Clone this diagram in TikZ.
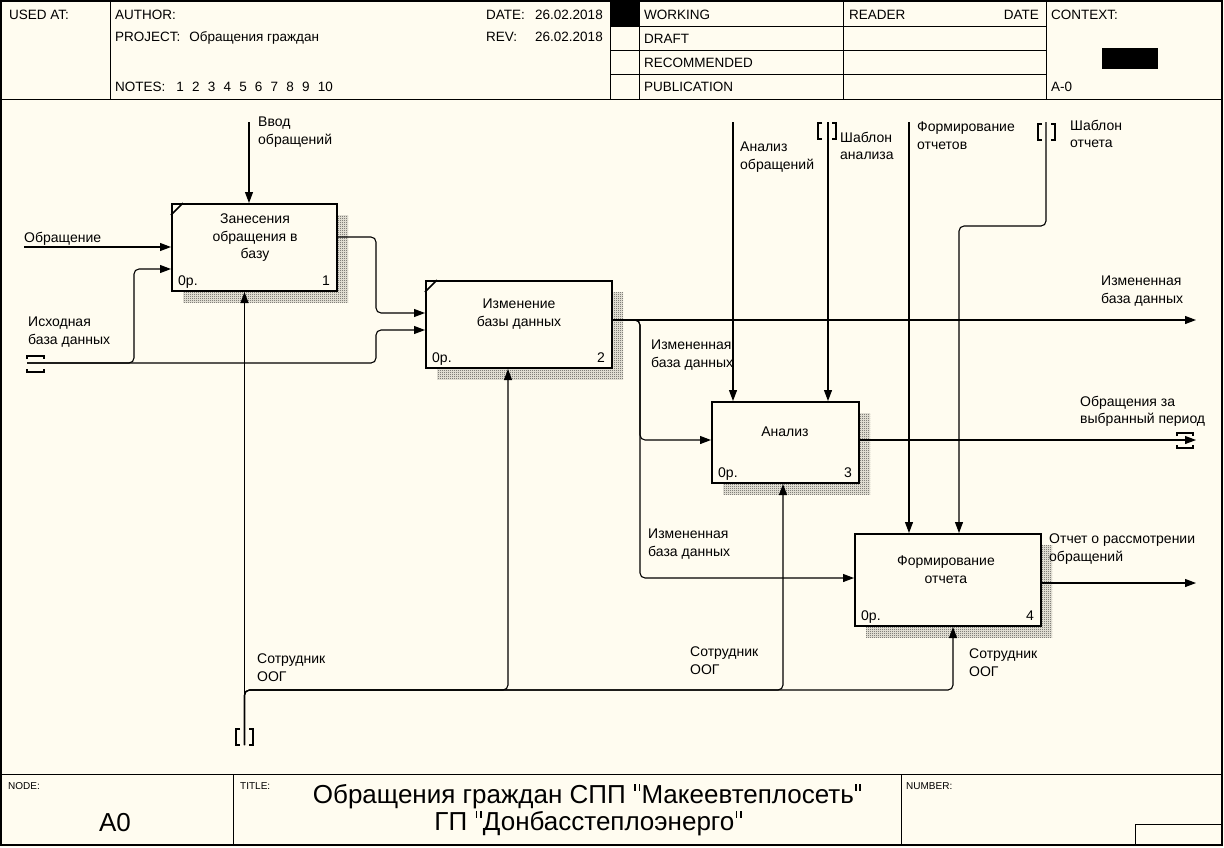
\documentclass[tikz,border=0pt]{standalone}
\usepackage{fontspec}
\setmainfont{Liberation Sans}
\usetikzlibrary{arrows.meta,patterns.meta}
\definecolor{bg}{RGB}{255,252,240}
\tikzdeclarepattern{
  name=finechk,
  type=uncolored,
  bounding box={(0pt,0pt) and (2pt,2pt)},
  tile size={(2pt,2pt)},
  code={
    \fill (0pt,0pt) rectangle (1pt,1pt);
    \fill (1pt,1pt) rectangle (2pt,2pt);
  }
}
\newcommand{\dq}{\hspace{1.3pt}\rule[12.3pt]{1.7pt}{6.3pt}\hspace{2.5pt}\rule[12.3pt]{1.7pt}{6.3pt}\hspace{1.3pt}}
\begin{document}
\begin{tikzpicture}[x=1pt,y=-1pt,
  frame/.style={line width=1pt, draw=black},
  hdr/.style={font=\fontsize{13.5}{16}\selectfont, anchor=base west, inner sep=0pt},
  small/.style={font=\fontsize{10}{12}\selectfont, anchor=base west, inner sep=0pt},
  lbl/.style={font=\fontsize{14}{17.5}\selectfont, align=left, anchor=north west, inner sep=0pt},
  boxtxt/.style={font=\fontsize{14}{17.5}\selectfont, align=center, anchor=north, inner sep=0pt},
  boxnum/.style={font=\fontsize{14}{17.5}\selectfont, inner sep=0pt},
  procbox/.style={draw, line width=2pt, fill=bg, inner sep=0pt},
  shadowfill/.style={pattern=finechk, pattern color=black},
  arr/.style={line width=1.1pt, -{Triangle[length=11pt,width=8pt]}},
  ln/.style={line width=1.1pt},
  tun/.style={line width=1.1pt},
  bigtxt/.style={font=\fontsize{26}{30}\selectfont, anchor=base, inner sep=0pt}
]
\useasboundingbox (0,0) rectangle (1224,847);
\fill[bg] (0,0) rectangle (1224,847);

% ---------- frame ----------
\draw[line width=1.5pt] (1,1) rectangle (1222,845);
\draw[frame] (1,99) -- (1222,99);
\draw[frame] (1,774) -- (1222,774);
\draw[frame] (110,1) -- (110,99);
\draw[frame] (610,1) -- (610,99);
\draw[frame] (639,1) -- (639,99);
\draw[frame] (843,1) -- (843,99);
\draw[frame] (1046,1) -- (1046,99);
\draw[frame] (610,26) -- (1046,26);
\draw[frame] (610,50) -- (1046,50);
\draw[frame] (610,74) -- (1046,74);
\fill[black] (611,2) rectangle (639,26);
\fill[black] (1102,48) rectangle (1158,69);
\draw[frame] (233,774) -- (233,845);
\draw[frame] (901,774) -- (901,845);
\draw[frame] (1135,824) -- (1135,845);
\draw[frame] (1135,824) -- (1222,824);

% ---------- header text ----------
\node[hdr] (hUsed) at (9,19) {USED AT:};
\node[hdr] (hAuth) at (115,19) {AUTHOR:};
\node[hdr] (hProj) at (115,41) {PROJECT:\hspace{9pt}Обращения граждан};
\node[hdr] (hNotes) at (115,91) {NOTES:\hspace{11pt}1\hspace{8.2pt}2\hspace{8.2pt}3\hspace{8.2pt}4\hspace{8.2pt}5\hspace{8.2pt}6\hspace{8.2pt}7\hspace{8.2pt}8\hspace{8.2pt}9\hspace{8.2pt}10};
\node[hdr] (hDate) at (486,19) {DATE:};
\node[hdr] (hDateV) at (535,19) {26.02.2018};
\node[hdr] (hRev) at (486,41) {REV:};
\node[hdr] (hRevV) at (535,41) {26.02.2018};
\node[hdr] (hWork) at (644,19) {WORKING};
\node[hdr] (hDraft) at (644,43) {DRAFT};
\node[hdr] (hRec) at (644,67) {RECOMMENDED};
\node[hdr] (hPub) at (644,91) {PUBLICATION};
\node[hdr] (hReader) at (849,19) {READER};
\node[hdr, anchor=base east] (hRDate) at (1039,19) {DATE};
\node[hdr] (hCtx) at (1051,19) {CONTEXT:};
\node[hdr] (hA0) at (1051,91) {A-0};

% ---------- footer text ----------
\node[small] (fNode) at (8,789) {NODE:};
\node[small] (fTitle) at (240,789) {TITLE:};
\node[small] (fNum) at (906,789) {NUMBER:};
\node[bigtxt] (fA0) at (115,831) {A0};
\node[bigtxt] (fT1) at (587,803) {Обращения граждан СПП \dq Макеевтеплосеть\dq};
\node[bigtxt] (fT2) at (588,830) {ГП \dq Донбасстеплоэнерго\dq};

% ---------- shadows ----------
\fill[shadowfill] (183,215) rectangle (348,302);
\fill[shadowfill] (437,292) rectangle (623,379);
\fill[shadowfill] (723,413) rectangle (870,494);
\fill[shadowfill] (866,545) rectangle (1052,637);

% ---------- boxes ----------
\node[procbox, minimum width=165pt, minimum height=87pt] (b1) at (254.5,247.5) {};
\node[procbox, minimum width=186pt, minimum height=87pt] (b2) at (519,324.5) {};
\node[procbox, minimum width=147pt, minimum height=81pt] (b3) at (785.5,442.5) {};
\node[procbox, minimum width=186pt, minimum height=92pt] (b4) at (948,580) {};

\draw[line width=1.5pt] ([yshift=-12pt]b1.north west) -- ([xshift=12pt]b1.north west);
\draw[line width=1.5pt] ([yshift=-12pt]b2.north west) -- ([xshift=12pt]b2.north west);

\node[boxtxt] (b1t) at (255,214) {Занесения\\обращения в\\базу};
\node[boxtxt] (b2t) at (519,299) {Изменение\\базы данных};
\node[boxtxt] (b3t) at (785,427) {Анализ};
\node[boxtxt] (b4t) at (946,556) {Формирование\\отчета};

\node[boxnum, anchor=base west] (b1o) at ([xshift=7pt,yshift=7pt]b1.south west) {0р.};
\node[boxnum, anchor=base east] (b1n) at ([xshift=-8pt,yshift=7pt]b1.south east) {1};
\node[boxnum, anchor=base west] (b2o) at ([xshift=7pt,yshift=7pt]b2.south west) {0р.};
\node[boxnum, anchor=base east] (b2n) at ([xshift=-8pt,yshift=7pt]b2.south east) {2};
\node[boxnum, anchor=base west] (b3o) at ([xshift=7pt,yshift=7pt]b3.south west) {0р.};
\node[boxnum, anchor=base east] (b3n) at ([xshift=-8pt,yshift=7pt]b3.south east) {3};
\node[boxnum, anchor=base west] (b4o) at ([xshift=7pt,yshift=7pt]b4.south west) {0р.};
\node[boxnum, anchor=base east] (b4n) at ([xshift=-8pt,yshift=7pt]b4.south east) {4};

% ---------- free ends ----------
\coordinate (cVvod) at (249,122);
\coordinate (cObr) at (24,247);
\coordinate (tIn) at (27,363);
\coordinate (oDB) at (1196,320);
\coordinate (oPer) at (1196,440);
\coordinate (oRep) at (1196,583);
\coordinate (cAn) at (733,122);
\coordinate (cSA) at (828,122);
\coordinate (cFO) at (909,122);
\coordinate (cSO) at (1046,122);
\coordinate (tMech) at (244.5,745);

% ---------- tunnels ----------
\draw[tun] (27,359) -- (27,356) -- (44,356) -- (44,359);
\draw[tun] (27,369) -- (27,372) -- (44,372) -- (44,369);
\draw[tun] (1177,436) -- (1177,433) -- (1193,433) -- (1193,436);
\draw[tun] (1177,445) -- (1177,448) -- (1193,448) -- (1193,445);
\draw[tun] (822,123) -- (818,123) -- (818,139) -- (822,139);
\draw[tun] (832,123) -- (836,123) -- (836,139) -- (832,139);
\draw[tun] (1042,124) -- (1038,124) -- (1038,140) -- (1042,140);
\draw[tun] (1051,124) -- (1055,124) -- (1055,140) -- (1051,140);
\draw[tun] (240,729) -- (236,729) -- (236,745) -- (240,745);
\draw[tun] (249,729) -- (253,729) -- (253,745) -- (249,745);

% ---------- connectors ----------
\draw[arr] (cVvod) -- (cVvod |- b1.north);
\draw[arr] (cObr) -- (b1.west |- cObr);
\draw[arr, rounded corners=5pt] (tIn) -- (134,363) -- (134,269) -- (b1.west |- 0,269);
\draw[arr, rounded corners=5pt] (tIn) -- (376,363) -- (376,330) -- (b2.west |- 0,330);
\draw[arr, rounded corners=5pt] (b1.east |- 0,237) -- (376,237) -- (376,313) -- (b2.west |- 0,313);
\draw[arr] (b2.east |- oDB) -- (oDB);
\draw[arr, rounded corners=5pt] (b2.east |- oDB) -- (640,320) -- (640,440) -- (b3.west |- 0,440);
\draw[arr, rounded corners=5pt] (b2.east |- oDB) -- (640,320) -- (640,578) -- (b4.west |- 0,578);
\draw[arr] (b3.east |- oPer) -- (oPer);
\draw[arr] (b4.east |- oRep) -- (oRep);
\draw[arr] (cAn) -- (cAn |- b3.north);
\draw[arr] (cSA) -- (cSA |- b3.north);
\draw[arr] (cFO) -- (cFO |- b4.north);
\draw[arr, rounded corners=5pt] (cSO) -- (1046,226) -- (959,226) -- (959,0 |- b4.north);
\draw[arr] (tMech) -- (tMech |- b1.south);
\draw[arr, rounded corners=5pt] (tMech) -- (244.5,690) -- (508,690) -- (508,0 |- b2.south);
\draw[arr, rounded corners=5pt] (tMech) -- (244.5,690) -- (783,690) -- (783,0 |- b3.south);
\draw[arr, rounded corners=5pt] (tMech) -- (244.5,690) -- (953,690) -- (953,0 |- b4.south);

% ---------- labels ----------
\node[lbl] (lVvod) at (258,117) {Ввод\\обращений};
\node[lbl] (lObr) at (24,232) {Обращение};
\node[lbl] (lIsh) at (28,317) {Исходная\\база данных};
\node[lbl] (lDB1) at (1101,276) {Измененная\\база данных};
\node[lbl] (lDB2) at (651,340) {Измененная\\база данных};
\node[lbl] (lPer) at (1080,396) {Обращения за\\выбранный период};
\node[lbl] (lDB3) at (648,529) {Измененная\\база данных};
\node[lbl] (lRep) at (1049,534) {Отчет о рассмотрении\\обращений};
\node[lbl] (lAn) at (740,142) {Анализ\\обращений};
\node[lbl] (lSA) at (840,132) {Шаблон\\анализа};
\node[lbl] (lFO) at (917,122) {Формирование\\отчетов};
\node[lbl] (lSO) at (1070,120) {Шаблон\\отчета};
\node[lbl] (lM1) at (257,654) {Сотрудник\\ООГ};
\node[lbl] (lM2) at (690,647) {Сотрудник\\ООГ};
\node[lbl] (lM3) at (969,649) {Сотрудник\\ООГ};
\end{tikzpicture}
\end{document}
